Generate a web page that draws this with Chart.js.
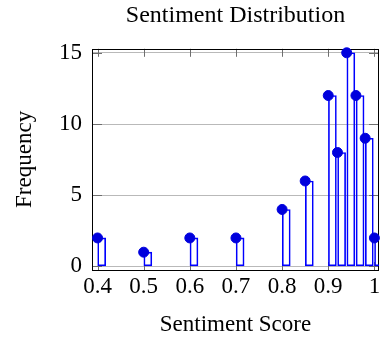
<!DOCTYPE html>
<html>
<head>
<meta charset="utf-8">
<script src="https://cdn.jsdelivr.net/npm/chart.js@4/dist/chart.umd.min.js"></script>
<style>
    html, body { margin: 0; padding: 0; background: #ffffff; }
</style>
</head>
<body>
<canvas id="sentimentChart" width="380" height="340"></canvas>
<script>
// sentiment score bins and how many samples fell in each
const scores = [0.4, 0.5, 0.6, 0.7, 0.8, 0.85, 0.9, 0.92, 0.94, 0.96, 0.98, 1.0];
const frequency = [2, 1, 2, 2, 4, 6, 12, 8, 15, 12, 9, 2];

const xTicks = [0.4, 0.5, 0.6, 0.7, 0.8, 0.9, 1.0];
const yTicks = [0, 5, 10, 15];

const BAR_W = 0.018;
const FONT = "'Liberation Serif', 'Times New Roman', serif";

// frame round the plot with short ticks pointing inwards
const frameTicks = {
    id: 'frameTicks',
    beforeDatasetsDraw(chart)
    {
        const { ctx, chartArea: a, scales } = chart;
        ctx.save();
        ctx.strokeStyle = 'rgb(110,110,110)';
        ctx.lineWidth = 1;
        ctx.beginPath();
        for (const v of xTicks)
        {
            const px = Math.round(scales.x.getPixelForValue(v)) + 0.5;
            ctx.moveTo(px, a.bottom); ctx.lineTo(px, a.bottom - 8);
            ctx.moveTo(px, a.top); ctx.lineTo(px, a.top + 8);
        }
        for (const v of yTicks)
        {
            const py = Math.round(scales.y.getPixelForValue(v)) + 0.5;
            ctx.moveTo(a.left, py); ctx.lineTo(a.left + 10, py);
            ctx.moveTo(a.right, py); ctx.lineTo(a.right - 10, py);
        }
        ctx.stroke();
        ctx.strokeStyle = '#000000';
        ctx.strokeRect(Math.round(a.left) + 0.5, Math.round(a.top) + 0.5,
            Math.round(a.right - a.left) - 1, Math.round(a.bottom - a.top));
        ctx.restore();
    }
};

new Chart(document.getElementById("sentimentChart"), {
    data: {
        datasets: [
            {
                type: 'scatter',
                data: scores.map((s, i) => ({ x: s, y: frequency[i] })),
                backgroundColor: 'rgb(0,0,221)',
                borderColor: 'rgb(0,0,221)',
                pointRadius: 5,
                pointHoverRadius: 5,
                clip: false,
                order: 1
            },
            {
                type: 'bar',
                // bar starts at the score and runs BAR_W to the right
                data: scores.map((s, i) => ({ x: s + BAR_W / 2, y: frequency[i] })),
                backgroundColor: 'rgba(0,0,0,0)',
                borderColor: 'rgb(0,0,255)',
                borderWidth: 1,
                borderSkipped: false,
                barThickness: 8,
                order: 2
            }
        ]
    },
    options: {
        responsive: false,
        animation: false,
        events: [],
        layout: { autoPadding: false, padding: { left: 0, right: 1, top: 0, bottom: 0 } },
        plugins: {
            legend: { display: false },
            tooltip: { enabled: false },
            title: {
                display: true,
                fullSize: false,
                text: 'Sentiment Distribution',
                color: '#000000',
                font: { family: FONT, size: 24, weight: 'normal' },
                padding: { top: 1, bottom: 19 }
            }
        },
        scales: {
            x: {
                type: 'linear',
                offset: false,
                min: 0.388,
                max: 1.01,
                afterBuildTicks: scale => { scale.ticks = xTicks.map(v => ({ value: v })); },
                afterFit: scale => { scale.height = 70; scale.paddingLeft = 0; scale.paddingRight = 0; },
                grid: { display: false, drawTicks: false, offset: false },
                border: { display: false },
                ticks: {
                    color: '#000000',
                    padding: 3,
                    maxRotation: 0,
                    autoSkip: false,
                    font: { family: FONT, size: 23 },
                    callback: v => String(Number(v.toFixed(2)))
                },
                title: {
                    display: true,
                    text: 'Sentiment Score',
                    color: '#000000',
                    font: { family: FONT, size: 23 },
                    padding: { top: 0, bottom: 1 }
                }
            },
            y: {
                type: 'linear',
                min: -0.25,
                max: 15.28,
                afterBuildTicks: scale => { scale.ticks = yTicks.map(v => ({ value: v })); },
                afterFit: scale => { scale.width = 92; scale.paddingTop = 0; scale.paddingBottom = 0; },
                grid: { color: 'rgb(185,185,185)', lineWidth: 1, drawTicks: false },
                border: { display: false },
                ticks: {
                    color: '#000000',
                    padding: 10,
                    font: { family: FONT, size: 23 }
                },
                title: {
                    display: true,
                    text: 'Frequency',
                    color: '#000000',
                    font: { family: FONT, size: 23 },
                    padding: { top: 11, bottom: 0 }
                }
            }
        }
    },
    plugins: [frameTicks]
});
</script>
</body>
</html>
